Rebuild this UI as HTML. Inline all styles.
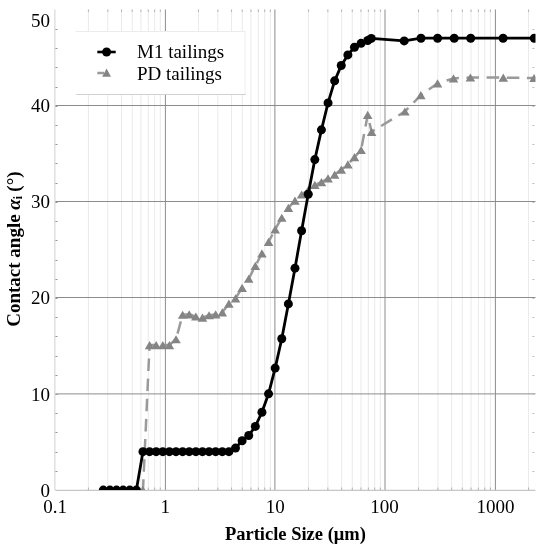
<!DOCTYPE html><html><head><meta charset="utf-8"><style>
html,body{margin:0;padding:0;background:#fff;}
body{width:546px;height:550px;overflow:hidden;}
svg{display:block;will-change:transform;}
text{font-family:"Liberation Serif",serif;}
</style></head><body>
<svg width="546" height="550" viewBox="0 0 546 550">
<defs><clipPath id="pc"><rect x="55.3" y="9.5" width="480.2" height="480.6"/></clipPath></defs>
<path d="M88.42 9.5V490.1M107.8 9.5V490.1M121.54 9.5V490.1M132.21 9.5V490.1M140.92 9.5V490.1M148.29 9.5V490.1M154.67 9.5V490.1M160.3 9.5V490.1M198.45 9.5V490.1M217.83 9.5V490.1M231.57 9.5V490.1M242.24 9.5V490.1M250.95 9.5V490.1M258.32 9.5V490.1M264.7 9.5V490.1M270.33 9.5V490.1M308.48 9.5V490.1M327.86 9.5V490.1M341.6 9.5V490.1M352.27 9.5V490.1M360.98 9.5V490.1M368.35 9.5V490.1M374.73 9.5V490.1M380.36 9.5V490.1M418.51 9.5V490.1M437.89 9.5V490.1M451.63 9.5V490.1M462.3 9.5V490.1M471.01 9.5V490.1M478.38 9.5V490.1M484.76 9.5V490.1M490.39 9.5V490.1M528.54 9.5V490.1" stroke="#eaeaea" stroke-width="1" fill="none"/>
<path d="M165.4 9.5V490.1M274.9 9.5V490.1M385 9.5V490.1M495.4 9.5V490.1M55.3 105.5H535.5M55.3 201.5H535.5M55.3 297.5H535.5M55.3 393.9H535.5" stroke="#8c8c8c" stroke-width="1" fill="none"/>
<path d="M54.9 9.5V490.1" stroke="#d0d0d0" stroke-width="1" fill="none"/>
<path d="M55.3 490.3H535.5" stroke="#b8b8b8" stroke-width="1" fill="none"/>
<path d="M55.4 471.5h2.2M55.4 452.5h2.2M55.4 432.5h2.2M55.4 413.5h2.2M55.4 394.5h2.2M55.4 375.5h2.2M55.4 356.5h2.2M55.4 336.5h2.2M55.4 317.5h2.2M55.4 298.5h2.2M55.4 279.5h2.2M55.4 260.5h2.2M55.4 240.5h2.2M55.4 221.5h2.2M55.4 202.5h2.2M55.4 183.5h2.2M55.4 163.5h2.2M55.4 144.5h2.2M55.4 125.5h2.2M55.4 106.5h2.2M55.4 87.5h2.2M55.4 67.5h2.2M55.4 48.5h2.2M55.4 29.5h2.2" stroke="#999" stroke-width="1" fill="none"/>
<path d="M534.5 471.5h-2.2M534.5 452.5h-2.2M534.5 432.5h-2.2M534.5 413.5h-2.2M534.5 394.5h-2.2M534.5 375.5h-2.2M534.5 356.5h-2.2M534.5 336.5h-2.2M534.5 317.5h-2.2M534.5 298.5h-2.2M534.5 279.5h-2.2M534.5 260.5h-2.2M534.5 240.5h-2.2M534.5 221.5h-2.2M534.5 202.5h-2.2M534.5 183.5h-2.2M534.5 163.5h-2.2M534.5 144.5h-2.2M534.5 125.5h-2.2M534.5 106.5h-2.2M534.5 87.5h-2.2M534.5 67.5h-2.2M534.5 48.5h-2.2M534.5 29.5h-2.2" stroke="#c4c4c4" stroke-width="1" fill="none"/>
<path d="M88.42 490v-2.5M88.42 9.5v2.5M107.8 490v-2.5M107.8 9.5v2.5M121.54 490v-2.5M121.54 9.5v2.5M132.21 490v-2.5M132.21 9.5v2.5M140.92 490v-2.5M140.92 9.5v2.5M148.29 490v-2.5M148.29 9.5v2.5M154.67 490v-2.5M154.67 9.5v2.5M160.3 490v-2.5M160.3 9.5v2.5M198.45 490v-2.5M198.45 9.5v2.5M217.83 490v-2.5M217.83 9.5v2.5M231.57 490v-2.5M231.57 9.5v2.5M242.24 490v-2.5M242.24 9.5v2.5M250.95 490v-2.5M250.95 9.5v2.5M258.32 490v-2.5M258.32 9.5v2.5M264.7 490v-2.5M264.7 9.5v2.5M270.33 490v-2.5M270.33 9.5v2.5M308.48 490v-2.5M308.48 9.5v2.5M327.86 490v-2.5M327.86 9.5v2.5M341.6 490v-2.5M341.6 9.5v2.5M352.27 490v-2.5M352.27 9.5v2.5M360.98 490v-2.5M360.98 9.5v2.5M368.35 490v-2.5M368.35 9.5v2.5M374.73 490v-2.5M374.73 9.5v2.5M380.36 490v-2.5M380.36 9.5v2.5M418.51 490v-2.5M418.51 9.5v2.5M437.89 490v-2.5M437.89 9.5v2.5M451.63 490v-2.5M451.63 9.5v2.5M462.3 490v-2.5M462.3 9.5v2.5M471.01 490v-2.5M471.01 9.5v2.5M478.38 490v-2.5M478.38 9.5v2.5M484.76 490v-2.5M484.76 9.5v2.5M490.39 490v-2.5M490.39 9.5v2.5M528.54 490v-2.5M528.54 9.5v2.5" stroke="#b4b4b4" stroke-width="1" fill="none"/>
<g clip-path="url(#pc)">
<polyline points="103.3,490.1 109.91,490.1 116.52,490.1 123.13,490.1 129.74,490.1 136.35,490.1 142.96,490.1 149.57,345.03 156.18,345.03 162.79,345.03 169.4,345.03 176.01,339.27 182.62,314.77 189.23,314.29 195.84,316.5 202.45,317.56 209.06,315.25 215.67,314.39 222.28,312.37 228.89,303.63 235.5,298.44 242.11,287.78 248.72,278.75 255.33,265.97 261.94,253.38 268.55,241.95 275.16,229.46 281.77,217.74 288.38,207.85 294.99,200.55 301.6,194.49 308.21,190.07 314.82,184.89 321.43,182.2 328.04,178.35 334.65,174.7 341.26,169.61 347.87,164.42 354.48,157.12 361.09,150.01 367.7,114.95 371.6,131.8 404.9,111.5 420.8,95.2 437.5,83.3 453.5,78.4 470.4,77.5 503.3,77.6 534.1,78" fill="none" stroke="#9a9a9a" stroke-width="2.5" stroke-dasharray="12.6 7.56" stroke-dashoffset="2.42" />
<path d="M103.3 486L108.1 494.2L98.5 494.2ZM109.91 486L114.71 494.2L105.11 494.2ZM116.52 486L121.32 494.2L111.72 494.2ZM123.13 486L127.93 494.2L118.33 494.2ZM129.74 486L134.54 494.2L124.94 494.2ZM136.35 486L141.15 494.2L131.55 494.2ZM142.96 486L147.76 494.2L138.16 494.2ZM149.57 340.93L154.37 349.13L144.77 349.13ZM156.18 340.93L160.98 349.13L151.38 349.13ZM162.79 340.93L167.59 349.13L157.99 349.13ZM169.4 340.93L174.2 349.13L164.6 349.13ZM176.01 335.17L180.81 343.37L171.21 343.37ZM182.62 310.67L187.42 318.87L177.82 318.87ZM189.23 310.19L194.03 318.39L184.43 318.39ZM195.84 312.4L200.64 320.6L191.04 320.6ZM202.45 313.46L207.25 321.66L197.65 321.66ZM209.06 311.15L213.86 319.35L204.26 319.35ZM215.67 310.29L220.47 318.49L210.87 318.49ZM222.28 308.27L227.08 316.47L217.48 316.47ZM228.89 299.53L233.69 307.73L224.09 307.73ZM235.5 294.34L240.3 302.54L230.7 302.54ZM242.11 283.68L246.91 291.88L237.31 291.88ZM248.72 274.65L253.52 282.85L243.92 282.85ZM255.33 261.87L260.13 270.07L250.53 270.07ZM261.94 249.28L266.74 257.48L257.14 257.48ZM268.55 237.85L273.35 246.05L263.75 246.05ZM275.16 225.36L279.96 233.56L270.36 233.56ZM281.77 213.64L286.57 221.84L276.97 221.84ZM288.38 203.75L293.18 211.95L283.58 211.95ZM294.99 196.45L299.79 204.65L290.19 204.65ZM301.6 190.39L306.4 198.59L296.8 198.59ZM308.21 185.97L313.01 194.17L303.41 194.17ZM314.82 180.79L319.62 188.99L310.02 188.99ZM321.43 178.1L326.23 186.3L316.63 186.3ZM328.04 174.25L332.84 182.45L323.24 182.45ZM334.65 170.6L339.45 178.8L329.85 178.8ZM341.26 165.51L346.06 173.71L336.46 173.71ZM347.87 160.32L352.67 168.52L343.07 168.52ZM354.48 153.02L359.28 161.22L349.68 161.22ZM361.09 145.91L365.89 154.11L356.29 154.11ZM367.7 110.85L372.5 119.05L362.9 119.05ZM371.6 127.7L376.4 135.9L366.8 135.9ZM404.9 107.4L409.7 115.6L400.1 115.6ZM420.8 91.1L425.6 99.3L416 99.3ZM437.5 79.2L442.3 87.4L432.7 87.4ZM453.5 74.3L458.3 82.5L448.7 82.5ZM470.4 73.4L475.2 81.6L465.6 81.6ZM503.3 73.5L508.1 81.7L498.5 81.7ZM534.1 73.9L538.9 82.1L529.3 82.1Z" fill="#858585" stroke="none"/>
<polyline points="103.3,490.1 109.91,490.1 116.52,490.1 123.13,490.1 129.74,490.1 136.35,490.1 142.96,451.67 149.57,451.67 156.18,451.67 162.79,451.67 169.4,451.67 176.01,451.67 182.62,451.67 189.23,451.67 195.84,451.67 202.45,451.67 209.06,451.67 215.67,451.67 222.28,451.67 228.89,451.67 235.5,448.12 242.11,440.72 248.72,435.53 255.33,426.41 261.94,412.28 268.55,393.84 275.16,368.09 281.77,338.79 288.38,303.92 294.99,268.18 301.6,230.71 308.21,194.2 314.82,159.62 321.43,129.84 328.04,102.94 334.65,80.84 341.26,65.47 347.87,54.9 354.48,47.22 361.09,43.37 367.7,40.49 371.3,38.4 404.2,40.9 421,38.2 437.6,38.2 454.2,38.2 470.7,38.2 503.1,38.2 534.3,38.2" fill="none" stroke="#000" stroke-width="2.8" stroke-linejoin="round"/>
<g fill="#000"><circle cx="103.3" cy="490.1" r="4.5"/><circle cx="109.91" cy="490.1" r="4.5"/><circle cx="116.52" cy="490.1" r="4.5"/><circle cx="123.13" cy="490.1" r="4.5"/><circle cx="129.74" cy="490.1" r="4.5"/><circle cx="136.35" cy="490.1" r="4.5"/><circle cx="142.96" cy="451.67" r="4.5"/><circle cx="149.57" cy="451.67" r="4.5"/><circle cx="156.18" cy="451.67" r="4.5"/><circle cx="162.79" cy="451.67" r="4.5"/><circle cx="169.4" cy="451.67" r="4.5"/><circle cx="176.01" cy="451.67" r="4.5"/><circle cx="182.62" cy="451.67" r="4.5"/><circle cx="189.23" cy="451.67" r="4.5"/><circle cx="195.84" cy="451.67" r="4.5"/><circle cx="202.45" cy="451.67" r="4.5"/><circle cx="209.06" cy="451.67" r="4.5"/><circle cx="215.67" cy="451.67" r="4.5"/><circle cx="222.28" cy="451.67" r="4.5"/><circle cx="228.89" cy="451.67" r="4.5"/><circle cx="235.5" cy="448.12" r="4.5"/><circle cx="242.11" cy="440.72" r="4.5"/><circle cx="248.72" cy="435.53" r="4.5"/><circle cx="255.33" cy="426.41" r="4.5"/><circle cx="261.94" cy="412.28" r="4.5"/><circle cx="268.55" cy="393.84" r="4.5"/><circle cx="275.16" cy="368.09" r="4.5"/><circle cx="281.77" cy="338.79" r="4.5"/><circle cx="288.38" cy="303.92" r="4.5"/><circle cx="294.99" cy="268.18" r="4.5"/><circle cx="301.6" cy="230.71" r="4.5"/><circle cx="308.21" cy="194.2" r="4.5"/><circle cx="314.82" cy="159.62" r="4.5"/><circle cx="321.43" cy="129.84" r="4.5"/><circle cx="328.04" cy="102.94" r="4.5"/><circle cx="334.65" cy="80.84" r="4.5"/><circle cx="341.26" cy="65.47" r="4.5"/><circle cx="347.87" cy="54.9" r="4.5"/><circle cx="354.48" cy="47.22" r="4.5"/><circle cx="361.09" cy="43.37" r="4.5"/><circle cx="367.7" cy="40.49" r="4.5"/><circle cx="371.3" cy="38.4" r="4.5"/><circle cx="404.2" cy="40.9" r="4.5"/><circle cx="421" cy="38.2" r="4.5"/><circle cx="437.6" cy="38.2" r="4.5"/><circle cx="454.2" cy="38.2" r="4.5"/><circle cx="470.7" cy="38.2" r="4.5"/><circle cx="503.1" cy="38.2" r="4.5"/><circle cx="534.3" cy="38.2" r="4.5"/></g>
</g>
<rect x="75.5" y="31" width="170" height="63.5" fill="#fff" stroke="none"/><path d="M75.5 31.5H245.5" stroke="#ececec" stroke-width="1"/><path d="M245 31V94" stroke="#efefef" stroke-width="1"/><path d="M76 94.5H246" stroke="#d2d2d2" stroke-width="1"/>
<line x1="97.3" y1="52" x2="115.7" y2="52" stroke="#000" stroke-width="2.6"/>
<circle cx="106.6" cy="52" r="4.5" fill="#000"/>
<line x1="97.3" y1="73" x2="104" y2="73" stroke="#9a9a9a" stroke-width="2.5"/>
<path d="M106.6 68.6L111 76.8L102.2 76.8Z" fill="#858585"/>
<text x="137" y="58.2" font-size="19" fill="#000">M1 tailings</text>
<text x="137" y="80" font-size="19" fill="#000">PD tailings</text>
<text x="50" y="496.6" font-size="19" text-anchor="end" fill="#000">0</text>
<text x="50" y="400.53" font-size="19" text-anchor="end" fill="#000">10</text>
<text x="50" y="304.46" font-size="19" text-anchor="end" fill="#000">20</text>
<text x="50" y="208.39" font-size="19" text-anchor="end" fill="#000">30</text>
<text x="50" y="112.32" font-size="19" text-anchor="end" fill="#000">40</text>
<text x="50" y="26.8" font-size="19" text-anchor="end" fill="#000">50</text>
<text x="55" y="512.8" font-size="19" text-anchor="middle" fill="#000">0.1</text>
<text x="165.3" y="512.8" font-size="19" text-anchor="middle" fill="#000">1</text>
<text x="275.3" y="512.8" font-size="19" text-anchor="middle" fill="#000">10</text>
<text x="384.4" y="512.8" font-size="19" text-anchor="middle" fill="#000">100</text>
<text x="495.6" y="512.8" font-size="19" text-anchor="middle" fill="#000">1000</text>
<text x="295.4" y="540.3" font-size="18.5" font-weight="bold" text-anchor="middle" fill="#000">Particle Size (μm)</text>
<text transform="translate(19.6 326.8) rotate(-90)" font-size="19" font-weight="bold" fill="#000">Contact angle <tspan font-style="italic">α</tspan><tspan font-size="11.5" dy="2.5">i</tspan><tspan dy="-2.5" dx="-0.5"> (°)</tspan></text>
</svg></body></html>
